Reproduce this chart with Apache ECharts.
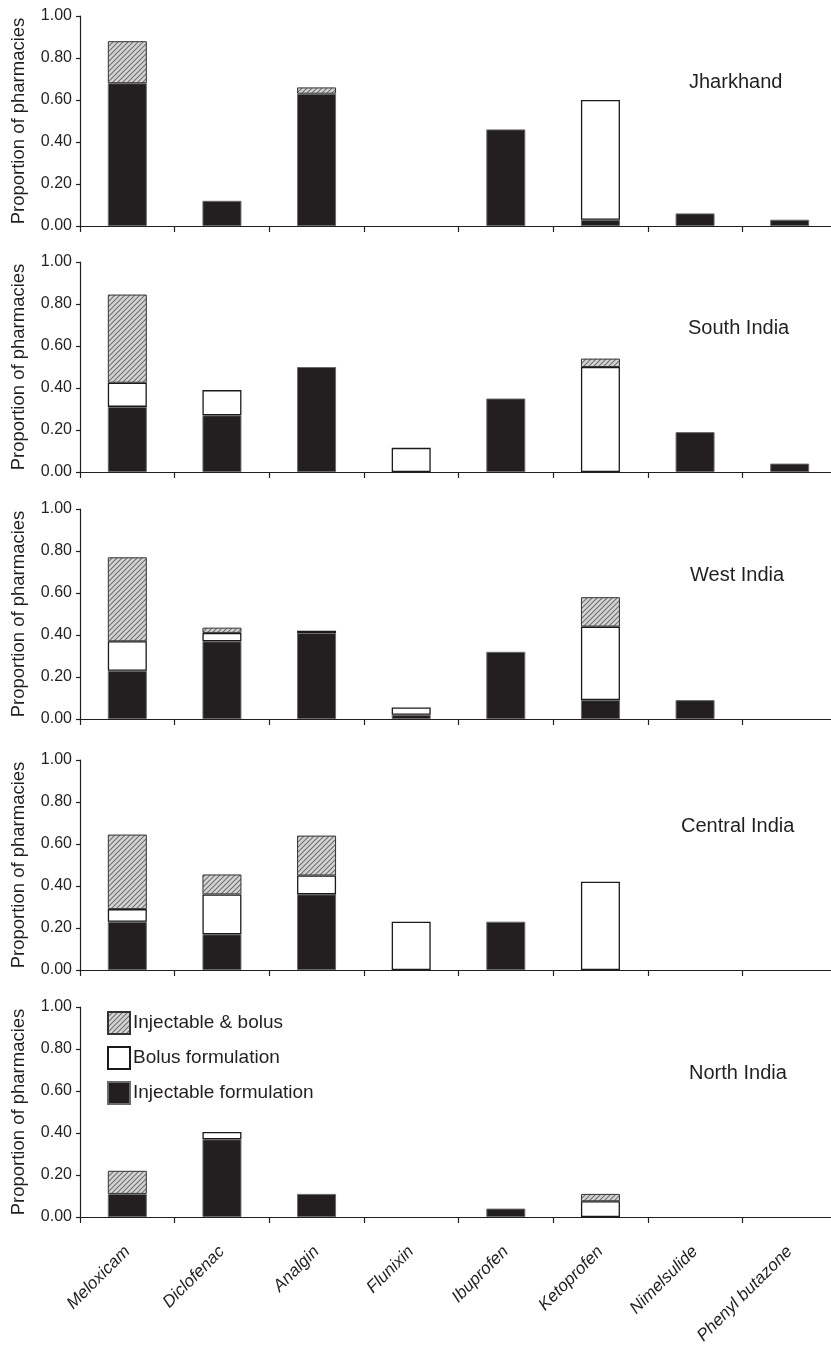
<!DOCTYPE html>
<html>
<head>
<meta charset="utf-8">
<script src="https://cdn.jsdelivr.net/npm/echarts@6/dist/echarts.min.js"></script>
<style>
html,body{margin:0;padding:0;background:#fff;}
#chart{width:831px;height:1345px;}
</style>
</head>
<body>
<div id="chart"></div>
<script>
const categories = ['Meloxicam','Diclofenac','Analgin','Flunixin','Ibuprofen','Ketoprofen','Nimelsulide','Phenyl butazone'];
const regions = ['Jharkhand','South India','West India','Central India','North India'];
const seriesNames = ['Injectable formulation','Bolus formulation','Injectable & bolus'];
const yTickValues = [0, 0.2, 0.4, 0.6, 0.8, 1.0];

const jharkhandInjectable = [0.68, 0.12, 0.63, 0, 0.46, 0.03, 0.06, 0.03];
const jharkhandBolus      = [0, 0, 0, 0, 0, 0.57, 0, 0];
const jharkhandBoth       = [0.20, 0, 0.03, 0, 0, 0, 0, 0];

const southInjectable = [0.31, 0.27, 0.50, 0, 0.35, 0, 0.19, 0.04];
const southBolus      = [0.115, 0.12, 0, 0.115, 0, 0.50, 0, 0];
const southBoth       = [0.42, 0, 0, 0, 0, 0.04, 0, 0];

const westInjectable = [0.23, 0.37, 0.41, 0.02, 0.32, 0.09, 0.09, 0];
const westBolus      = [0.14, 0.04, 0.01, 0.035, 0, 0.35, 0, 0];
const westBoth       = [0.40, 0.025, 0, 0, 0, 0.14, 0, 0];

const centralInjectable = [0.23, 0.17, 0.36, 0, 0.23, 0, 0, 0];
const centralBolus      = [0.06, 0.19, 0.09, 0.23, 0, 0.42, 0, 0];
const centralBoth       = [0.355, 0.095, 0.19, 0, 0, 0, 0, 0];

const northInjectable = [0.11, 0.37, 0.11, 0, 0.04, 0, 0, 0];
const northBolus      = [0, 0.035, 0, 0, 0, 0.075, 0, 0];
const northBoth       = [0.11, 0, 0, 0, 0, 0.035, 0, 0];

const regionData = [
  [jharkhandInjectable, jharkhandBolus, jharkhandBoth],
  [southInjectable, southBolus, southBoth],
  [westInjectable, westBolus, westBoth],
  [centralInjectable, centralBolus, centralBoth],
  [northInjectable, northBolus, northBoth]
];

// hatch pattern
const pc = document.createElement('canvas');
pc.width = 5; pc.height = 5;
const ctx = pc.getContext('2d');
ctx.fillStyle = '#d4d4d4';
ctx.fillRect(0,0,5,5);
ctx.strokeStyle = '#6e6e6e';
ctx.lineWidth = 1.1;
ctx.beginPath();
ctx.moveTo(-1,6); ctx.lineTo(6,-1);
ctx.moveTo(-1,1); ctx.lineTo(1,-1);
ctx.moveTo(4,6); ctx.lineTo(6,4);
ctx.stroke();
const hatch = {image: pc, repeat: 'repeat'};

const FONT = "'Liberation Sans', Arial, Helvetica, sans-serif";
const TXT = '#231f20';
const gridTops = [16, 262, 509, 760, 1007];
const titleLefts = [689, 688, 690, 681, 689];
const gridH = 210;

const styles = [
  {color: '#231f20', borderColor: '#6a6a6a', borderWidth: 1},
  {color: '#ffffff', borderColor: '#1a1a1a', borderWidth: 1.3},
  {color: hatch, borderColor: '#333333', borderWidth: 1}
];

const grid = [], xAxis = [], yAxis = [], series = [], title = [];
regions.forEach((r, i) => {
  grid.push({left: 80, top: gridTops[i], width: 757, height: gridH, containLabel: false, outerBoundsMode: 'none'});
  const last = i === regions.length - 1;
  xAxis.push({
    type: 'category', gridIndex: i, data: categories, boundaryGap: true,
    axisLine: {show: true, lineStyle: {color: '#231f20', width: 1.2}},
    axisTick: {show: true, length: 6, interval: 0, alignWithLabel: false, lineStyle: {color: '#231f20', width: 1.2}},
    axisLabel: last ? {show: true, rotate: 45, interval: 0, margin: 32, fontSize: 17, fontStyle: 'italic', fontFamily: FONT, color: TXT} : {show: false, interval: 0},
    splitLine: {show: false}
  });
  yAxis.push({
    type: 'value', gridIndex: i, min: 0, max: 1, interval: 0.2,
    name: 'Proportion of pharmacies', nameLocation: 'middle', nameGap: 52,
    nameTextStyle: {fontSize: 18.5, fontFamily: FONT, color: TXT},
    axisLine: {show: true, lineStyle: {color: '#231f20', width: 1.2}},
    axisTick: {show: true, length: 4, lineStyle: {color: '#231f20', width: 1.2}},
    axisLabel: {fontSize: 16, fontFamily: FONT, color: TXT, margin: 8, formatter: v => v.toFixed(2),
      customValues: yTickValues},
    splitLine: {show: false}
  });
  title.push({text: r, left: titleLefts[i], top: gridTops[i] + 56, padding: 0,
    textStyle: {fontSize: 20, fontWeight: 'normal', fontFamily: FONT, color: TXT}});
  regionData[i].forEach((arr, k) => {
    series.push({
      name: seriesNames[k], type: 'bar', stack: 'r' + i,
      xAxisIndex: i, yAxisIndex: i, barWidth: 39,
      data: arr.map(v => v === 0 ? '-' : v),
      itemStyle: styles[k],
      emphasis: {disabled: true},
      animation: false
    });
  });
});

const chart = echarts.init(document.getElementById('chart'));
chart.setOption({
  animation: false,
  title: title,
  grid: grid, xAxis: xAxis, yAxis: yAxis, series: series,
  legend: {
    data: ['Injectable & bolus', 'Bolus formulation', 'Injectable formulation'],
    orient: 'vertical', left: 102, top: 1006, icon: 'rect',
    itemWidth: 22, itemHeight: 22, itemGap: 11,
    textStyle: {fontSize: 19, fontFamily: FONT, color: TXT, padding: [0,0,0,-2]},
    selectedMode: false
  }
});
</script>
</body>
</html>
